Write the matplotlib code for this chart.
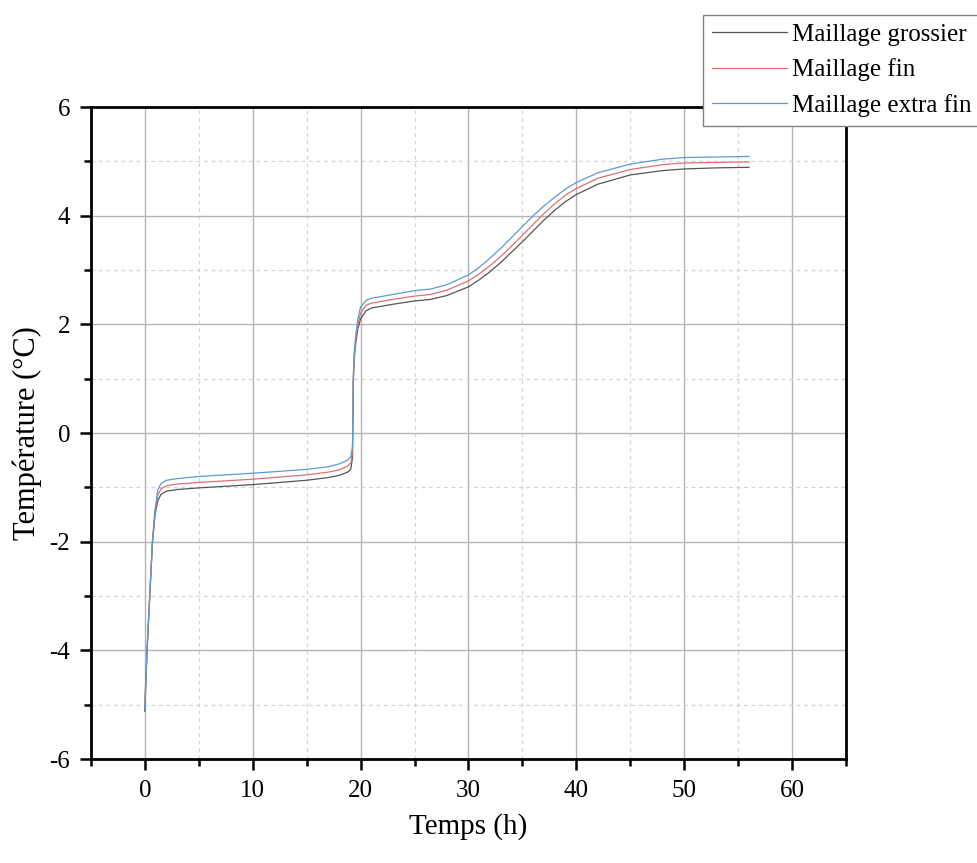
import numpy as np
import matplotlib
matplotlib.use("Agg")
import matplotlib.pyplot as plt
from matplotlib.ticker import MultipleLocator

matplotlib.rc('font', family='serif', serif=['Liberation Serif', 'DejaVu Serif'])
matplotlib.rcParams['axes.unicode_minus'] = False

# temps (h) et temperatures (°C)
t = [0, 0.2, 0.45, 0.7, 0.95, 1.2, 1.5, 2, 3, 5, 10, 15, 17, 18, 18.8, 19.1, 19.25,
     19.28, 19.32, 19.4, 19.55, 19.75, 20, 20.5, 21, 23, 25, 26.5, 28, 30, 31, 32,
     33, 34, 35, 36, 37, 38, 39, 40, 42, 45, 48, 50, 53, 56]

grossier = [-5.12, -4.05, -3.05, -2.05, -1.5, -1.25, -1.13, -1.07, -1.04, -1.01, -0.95,
            -0.87, -0.82, -0.78, -0.72, -0.66, -0.45, 0.2, 0.9, 1.35, 1.65, 1.92, 2.1,
            2.25, 2.3, 2.37, 2.43, 2.46, 2.53, 2.69, 2.82, 2.97, 3.14, 3.33, 3.52, 3.72,
            3.92, 4.1, 4.26, 4.39, 4.58, 4.75, 4.83, 4.86, 4.88, 4.89]

fin = [-5.0, -4.02, -3.02, -2.02, -1.45, -1.15, -1.03, -0.97, -0.94, -0.91, -0.85,
       -0.77, -0.72, -0.68, -0.61, -0.55, -0.35, 0.25, 0.95, 1.4, 1.72, 2.0, 2.2,
       2.35, 2.39, 2.46, 2.52, 2.55, 2.63, 2.80, 2.93, 3.08, 3.25, 3.44, 3.64, 3.84,
       4.04, 4.22, 4.38, 4.50, 4.69, 4.85, 4.94, 4.97, 4.98, 4.99]

extra_fin = [-5.05, -4.0, -3.0, -2.0, -1.4, -1.05, -0.93, -0.87, -0.84, -0.80, -0.74,
             -0.67, -0.62, -0.57, -0.5, -0.43, -0.25, 0.3, 1.0, 1.45, 1.8, 2.1, 2.32,
             2.44, 2.48, 2.55, 2.62, 2.65, 2.73, 2.91, 3.05, 3.22, 3.40, 3.60, 3.80, 4.0,
             4.18, 4.34, 4.49, 4.61, 4.79, 4.95, 5.04, 5.07, 5.08, 5.09]

fig = plt.figure(figsize=(9.77, 8.63), dpi=100)
ax = fig.add_axes([0.093, 0.1205, 0.773, 0.7555])

ax.plot(t, grossier, color='#555555', lw=0.9, label='Maillage grossier')
ax.plot(t, fin, color='#e07070', lw=0.9, label='Maillage fin')
ax.plot(t, extra_fin, color='#5b9bd5', lw=0.9, label='Maillage extra fin')

ax.set_xlim(-5, 65)
ax.set_ylim(-6, 6)
ax.xaxis.set_major_locator(MultipleLocator(10))
ax.xaxis.set_minor_locator(MultipleLocator(5))
ax.yaxis.set_major_locator(MultipleLocator(2))
ax.yaxis.set_minor_locator(MultipleLocator(1))

ax.grid(which='major', color='#b4b4b4', lw=1.0, ls='-')
ax.grid(which='minor', color='#d2d2d2', lw=0.9, ls=(0, (3, 3)))
ax.set_axisbelow(True)

for s in ax.spines.values():
    s.set_linewidth(2.0)
ax.tick_params(which='major', direction='out', length=8, width=1.8, labelsize=18, pad=7)
ax.tick_params(which='minor', direction='out', length=5, width=1.8)

ax.set_xlabel('Temps (h)', fontsize=21, labelpad=8)
ax.set_ylabel('Température (°C)', fontsize=22, labelpad=5)

leg = fig.legend(loc='upper right', bbox_to_anchor=(1.003, 0.983), fontsize=18,
                 frameon=True, fancybox=False, framealpha=1, edgecolor='#808080',
                 handlelength=3.0, handletextpad=0.2, borderpad=0.35, labelspacing=0.5,
                 borderaxespad=0)
leg.get_frame().set_linewidth(1.0)

fig.savefig('out.png', dpi=100)
